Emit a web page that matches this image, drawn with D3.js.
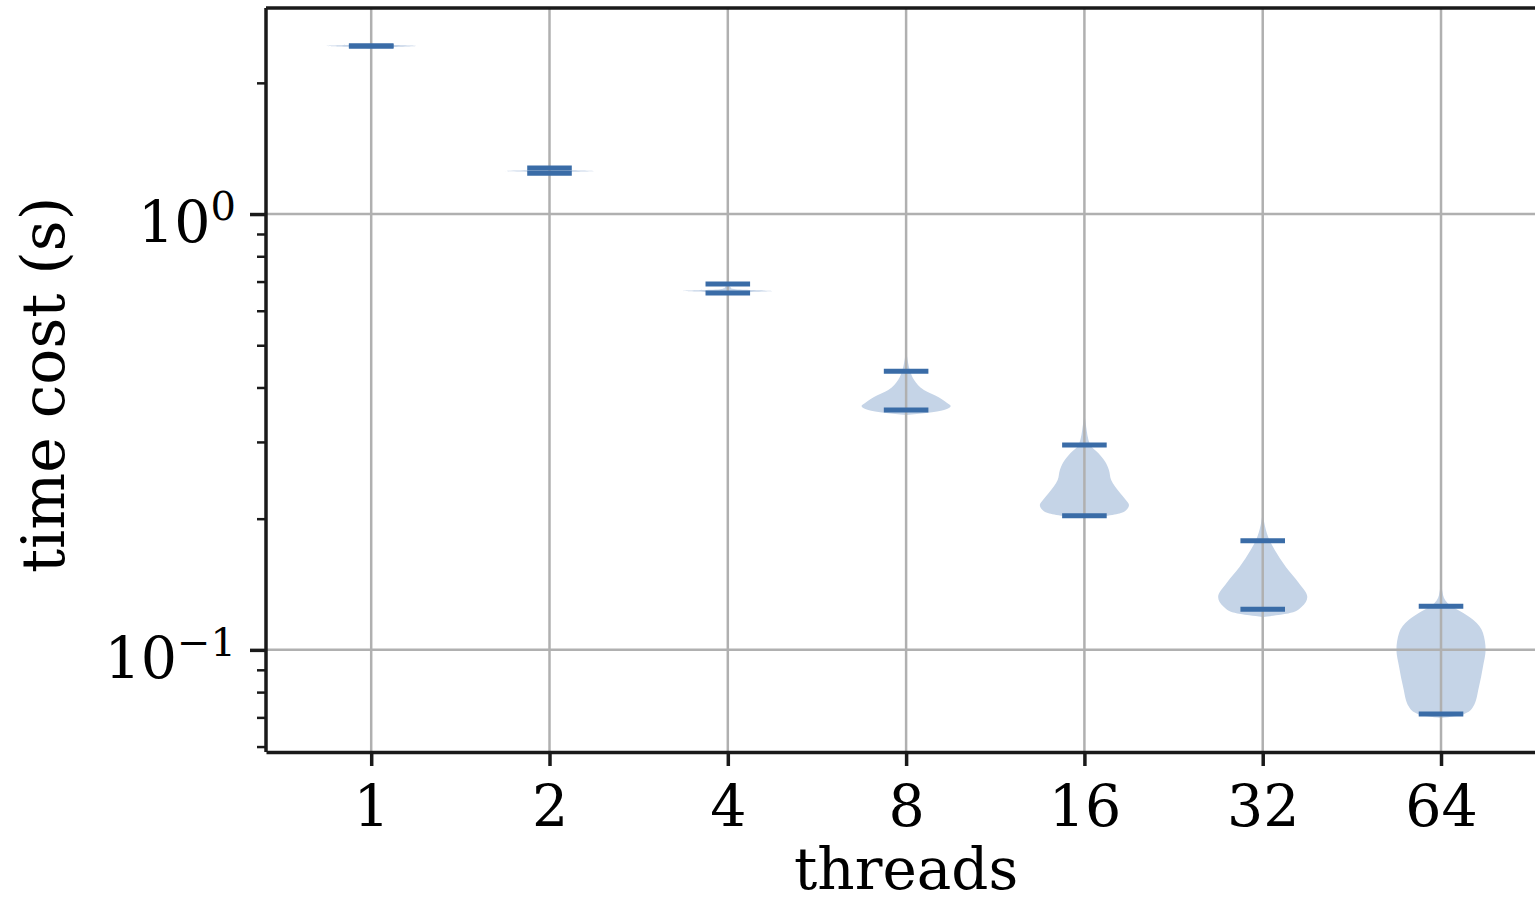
<!DOCTYPE html>
<html>
<head>
<meta charset="utf-8">
<script src="https://cdn.jsdelivr.net/npm/d3@7"></script>
<style>
  body { margin: 0; background: #fff; }
  text { font-family: "DejaVu Serif", serif; fill: #000; }
</style>
</head>
<body>
<svg id="chart" width="1535" height="902"></svg>
<script>
// threads on x, time cost (s) on a log y axis
var threads = ["1", "2", "4", "8", "16", "32", "64"];
var lowBar  = [2.43, 1.240, 0.659, 0.355, 0.203, 0.124, 0.0713];
var highBar = [2.43, 1.276, 0.691, 0.436, 0.295, 0.178, 0.126];

// violin outlines: [time, relative half-width]
var violin1  = [[2.46, 0], [2.445, 0.4], [2.43, 1], [2.415, 0.4], [2.40, 0]];
var violin2  = [[1.30, 0], [1.277, 0.03], [1.262, 0.4], [1.255, 1], [1.248, 0.4], [1.235, 0]];
var violin4  = [[0.745, 0], [0.70, 0.02], [0.675, 0.08], [0.670, 0.4], [0.666, 1], [0.662, 0.4], [0.657, 0]];
var violin8  = [[0.488, 0], [0.4625, 0.034], [0.4363, 0.09], [0.4162, 0.18], [0.3948, 0.40], [0.3804, 0.72],
                [0.3685, 0.92], [0.3627, 1], [0.3551, 0.85], [0.3495, 0.45], [0.3459, 0]];
var violin16 = [[0.3514, 0], [0.3281, 0.034], [0.2953, 0.13], [0.2830, 0.31], [0.2699, 0.47], [0.2587, 0.55],
                [0.2454, 0.60], [0.2291, 0.80], [0.2208, 0.93], [0.2151, 1], [0.2095, 0.94], [0.2062, 0.82],
                [0.2029, 0.45], [0.2008, 0]];
var violin32 = [[0.2095, 0], [0.1935, 0.045], [0.1778, 0.16], [0.1696, 0.27], [0.1550, 0.52], [0.1424, 0.81],
                [0.1323, 1], [0.1255, 0.87], [0.1216, 0.63], [0.1200, 0.3], [0.1190, 0]];
var violin64 = [[0.1470, 0], [0.1337, 0.045], [0.1262, 0.22], [0.1216, 0.49], [0.1172, 0.72], [0.1094, 0.94],
                [0.1, 1], [0.0914, 0.94], [0.0822, 0.85], [0.0740, 0.72], [0.0710, 0.49], [0.0698, 0]];
var violins = [violin1, violin2, violin4, violin8, violin16, violin32, violin64];

var yMajor = [0.1, 1];
var yMinor = [0.06, 0.07, 0.08, 0.09, 0.2, 0.3, 0.4, 0.5, 0.6, 0.7, 0.8, 0.9, 2];
var yTickText = [["10", "\u22121"], ["10", "0"]];
var yDomain = [0.0583, 2.97];
var xDomain = [0.41, 7.6];

var W = 1535, H = 902;
var margin = { left: 266, top: 8, bottom: 150 };
var plotBottom = H - margin.bottom;

var svg = d3.select("#chart");
var x = d3.scaleLinear().domain(xDomain).range([margin.left, 1548]);
var y = d3.scaleLog().domain(yDomain).range([plotBottom, margin.top]);

var fill = "#c5d4e7", lineColor = "#3a6ca7";
var unit = x(1) - x(0);

// violins
var area = d3.area()
  .curve(d3.curveMonotoneY)
  .y(function (d) { return y(d[0]); });

violins.forEach(function (prof, i) {
  var cx = x(i + 1);
  var pts = prof.slice().sort(function (a, b) { return b[0] - a[0]; });
  svg.append("path")
    .datum(pts)
    .attr("fill", fill)
    .attr("stroke", "none")
    .attr("d", area
      .x0(function (d) { return cx - d[1] * 0.25 * unit; })
      .x1(function (d) { return cx + d[1] * 0.25 * unit; }));
});

// grid (drawn over the violin bodies, under the bars)
var grid = svg.append("g").attr("stroke", "#b0b0b0").attr("stroke-width", 2.5);
grid.selectAll(".gx").data(threads).join("line")
  .attr("x1", function (d, i) { return x(i + 1); })
  .attr("x2", function (d, i) { return x(i + 1); })
  .attr("y1", margin.top).attr("y2", plotBottom);
grid.selectAll(".gy").data(yMajor).join("line")
  .attr("x1", margin.left).attr("x2", W)
  .attr("y1", function (d) { return y(d); })
  .attr("y2", function (d) { return y(d); });

// min / max bars
var bars = svg.append("g").attr("stroke", lineColor).attr("stroke-width", 5);
[lowBar, highBar].forEach(function (arr) {
  bars.selectAll(null).data(arr).join("line")
    .attr("x1", function (d, i) { return x(i + 1 - 0.125); })
    .attr("x2", function (d, i) { return x(i + 1 + 0.125); })
    .attr("y1", function (d) { return y(d); })
    .attr("y2", function (d) { return y(d); });
});

// x axis
var xAxis = svg.append("g")
  .attr("transform", "translate(0," + plotBottom + ")")
  .call(d3.axisBottom(x)
    .tickValues(d3.range(1, threads.length + 1))
    .tickFormat(function (d) { return threads[d - 1]; })
    .tickSize(14).tickSizeOuter(0).tickPadding(20));
xAxis.select(".domain").attr("stroke", "#1a1a1a").attr("stroke-width", 3.5);
xAxis.selectAll(".tick line").attr("stroke", "#1a1a1a").attr("stroke-width", 3.5);
xAxis.selectAll("text").attr("font-size", 57).attr("font-family", "DejaVu Serif").attr("fill", "#000");

// y axis: major and minor ticks
var yAxis = svg.append("g").attr("transform", "translate(" + margin.left + ",0)")
  .call(d3.axisLeft(y).tickValues(yMajor).tickFormat("").tickSize(16).tickSizeOuter(0));
yAxis.select(".domain").remove();
yAxis.selectAll(".tick line").attr("stroke", "#1a1a1a").attr("stroke-width", 3.5);
var yMinorAxis = svg.append("g").attr("transform", "translate(" + margin.left + ",0)")
  .call(d3.axisLeft(y).tickValues(yMinor).tickFormat("").tickSize(9).tickSizeOuter(0));
yMinorAxis.select(".domain").remove();
yMinorAxis.selectAll(".tick line").attr("stroke", "#1a1a1a").attr("stroke-width", 2.5);

yMajor.forEach(function (v, i) {
  var t = svg.append("text")
    .attr("x", 236).attr("y", y(v) + 28)
    .attr("text-anchor", "end").attr("font-size", 57)
    .text(yTickText[i][0]);
  t.append("tspan").attr("dy", -22).attr("font-size", 40).text(yTickText[i][1]);
});

// spines (right spine falls outside the frame)
var spine = svg.append("g").attr("stroke", "#1a1a1a").attr("stroke-width", 3.5);
spine.append("line").attr("x1", margin.left).attr("x2", margin.left)
  .attr("y1", margin.top).attr("y2", plotBottom);
spine.append("line").attr("x1", margin.left).attr("x2", W)
  .attr("y1", margin.top).attr("y2", margin.top);

// axis labels
svg.append("text")
  .attr("x", (x(1) + x(7)) / 2).attr("y", 889)
  .attr("text-anchor", "middle").attr("font-size", 58)
  .text("threads");
svg.append("text")
  .attr("transform", "translate(64,385) rotate(-90)")
  .attr("text-anchor", "middle").attr("font-size", 60)
  .text("time cost (s)");
</script>
</body>
</html>
